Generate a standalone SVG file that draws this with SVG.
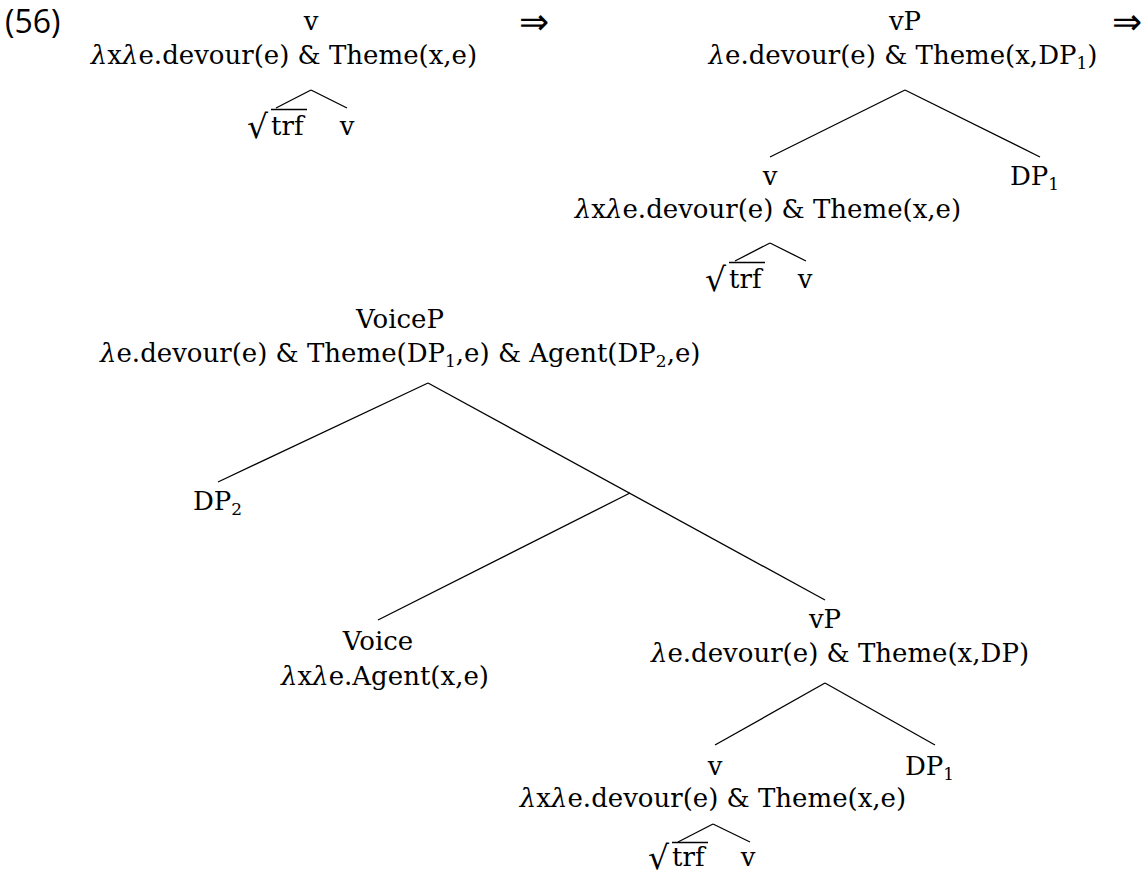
<svg xmlns="http://www.w3.org/2000/svg" width="1143" height="877" viewBox="0 0 1143 877">
<style>
text{font-family:"DejaVu Serif","Liberation Serif",serif;font-size:26px;fill:#000}
.m{text-anchor:middle}
.l{font-style:italic}
.num{font-family:"Open Sans","Noto Sans",sans-serif;font-size:32px}
.arr{font-family:"DejaVu Sans",sans-serif;font-weight:200;font-size:36px}
.sub{font-size:17px}
.rad{font-family:"DejaVu Sans",sans-serif;font-size:33px}
line{stroke:#000;stroke-width:1.3}
</style>
<rect width="1143" height="877" fill="#fff"/>
<text class="num" x="5" y="33">(56)</text>
<text class="arr" x="519" y="34">⇒</text>
<text class="arr" x="1112" y="34">⇒</text>
<g id="connectors">
<line x1="311" y1="90" x2="276" y2="108"/>
<line x1="311" y1="90" x2="347" y2="108"/>
<line x1="905" y1="90" x2="770" y2="157"/>
<line x1="905" y1="90" x2="1040" y2="157"/>
<line x1="770" y1="243" x2="735" y2="261"/>
<line x1="770" y1="243" x2="806" y2="261"/>
<line x1="428" y1="383" x2="218" y2="482"/>
<line x1="428" y1="383" x2="825" y2="600"/>
<line x1="630" y1="493" x2="378" y2="620"/>
<line x1="825" y1="683" x2="715" y2="745"/>
<line x1="825" y1="683" x2="935" y2="745"/>
<line x1="713" y1="824" x2="678" y2="842"/>
<line x1="713" y1="824" x2="750" y2="842"/>
</g>
<g id="t1-v"><text class="m" x="311" y="30">v</text><text class="m" x="284" y="64"><tspan class="l">λ</tspan>x<tspan class="l">λ</tspan>e.devour(e) &amp; Theme(x,e)</text></g>
<g id="t1-root"><text class="rad" x="247" y="138">√</text><line x1="271" y1="109.5" x2="307" y2="109.5"/><text x="271" y="135">trf</text></g>
<g id="t1-vleaf"><text class="m" x="347" y="135">v</text></g>
<g id="t2-vP"><text class="m" x="905" y="30">vP</text><text class="m" x="903" y="64"><tspan class="l">λ</tspan>e.devour(e) &amp; Theme(x,DP<tspan class="sub" dy="5">1</tspan><tspan dy="-5">)</tspan></text></g>
<g id="t2-v"><text class="m" x="770" y="185">v</text><text class="m" x="768" y="218"><tspan class="l">λ</tspan>x<tspan class="l">λ</tspan>e.devour(e) &amp; Theme(x,e)</text></g>
<g id="t2-DP1"><text x="1010" y="185">DP<tspan class="sub" dy="5">1</tspan></text></g>
<g id="t2-root"><text class="rad" x="705" y="291">√</text><line x1="729" y1="262.5" x2="765" y2="262.5"/><text x="729" y="288">trf</text></g>
<g id="t2-vleaf"><text class="m" x="805" y="288">v</text></g>
<g id="t3-VoiceP"><text class="m" x="400" y="328">VoiceP</text><text x="100" y="362"><tspan class="l">λ</tspan>e.devour(e) &amp; Theme(DP<tspan class="sub" dy="5">1</tspan><tspan dy="-5">,e) &amp; Agent(DP</tspan><tspan class="sub" dy="5">2</tspan><tspan dy="-5">,e)</tspan></text></g>
<g id="t3-DP2"><text x="193" y="510">DP<tspan class="sub" dy="5">2</tspan></text></g>
<g id="t3-Voice"><text class="m" x="378" y="650">Voice</text><text class="m" x="385" y="685"><tspan class="l">λ</tspan>x<tspan class="l">λ</tspan>e.Agent(x,e)</text></g>
<g id="t3-vP"><text class="m" x="825" y="628">vP</text><text class="m" x="840" y="662"><tspan class="l">λ</tspan>e.devour(e) &amp; Theme(x,DP)</text></g>
<g id="t3-v"><text class="m" x="715" y="775">v</text><text class="m" x="713" y="807"><tspan class="l">λ</tspan>x<tspan class="l">λ</tspan>e.devour(e) &amp; Theme(x,e)</text></g>
<g id="t3-DP1"><text x="905" y="775">DP<tspan class="sub" dy="5">1</tspan></text></g>
<g id="t3-root"><text class="rad" x="648" y="869">√</text><line x1="672" y1="842.5" x2="708" y2="842.5"/><text x="672" y="866">trf</text></g>
<g id="t3-vleaf"><text class="m" x="748" y="866">v</text></g>
</svg>
